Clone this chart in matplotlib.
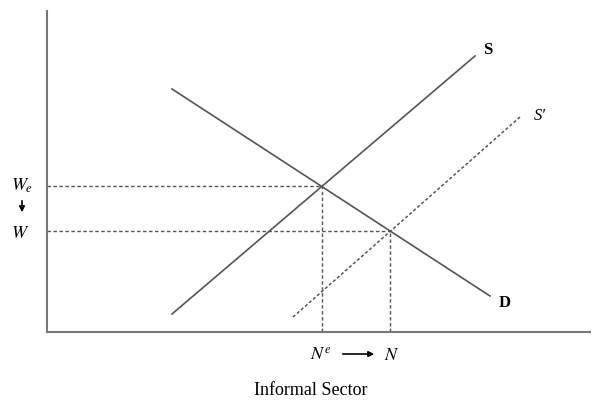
import matplotlib.pyplot as plt
import numpy as np

plt.rcParams['mathtext.fontset'] = 'stix'

# curve end points in chart units (x = quantity of labour, y = wage)
supply_x = [125, 428]
supply_y = [18, 276]
demand_x = [125, 443]
demand_y = [243, 36]
supply2_x = [246, 473]
supply2_y = [15, 215]

line_color = '#555555'
guide_color = '#555555'
serif = ['Liberation Serif', 'DejaVu Serif']


def line_coef(xs, ys):
    m = (ys[1] - ys[0]) / (xs[1] - xs[0])
    return m, ys[0] - m * xs[0]


def intersect(a, b):
    m1, c1 = line_coef(*a)
    m2, c2 = line_coef(*b)
    x = (c2 - c1) / (m1 - m2)
    return x, m1 * x + c1


def fpos(px, py):
    # pixel position in the 595x406 picture -> figure fraction
    return px / 595, (406 - py) / 406


fig = plt.figure(figsize=(5.95, 4.06), dpi=100)
ax = fig.add_axes([47 / 595, 73 / 406, 543 / 595, 321 / 406])
ax.set_xlim(0, 543)
ax.set_ylim(0, 321)

ax.plot(supply_x, supply_y, color=line_color, lw=1.2)
ax.plot(demand_x, demand_y, color=line_color, lw=1.2)
ax.plot(supply2_x, supply2_y, color=line_color, lw=1.1, linestyle=(0, (2, 1.5)))

e1 = intersect((supply_x, supply_y), (demand_x, demand_y))
e2 = intersect((supply2_x, supply2_y), (demand_x, demand_y))
for ex, ey in (e1, e2):
    ax.plot([0, ex], [ey, ey], color=guide_color, lw=1.0, linestyle=(0, (2.5, 1.8)))
    ax.plot([ex, ex], [0, ey], color=guide_color, lw=1.0, linestyle=(0, (2.5, 1.8)))

for side in ['top', 'right']:
    ax.spines[side].set_visible(False)
for side in ['left', 'bottom']:
    ax.spines[side].set_color('#777777')
    ax.spines[side].set_linewidth(1.5)
ax.set_xticks([e1[0], e2[0]])
ax.set_xticklabels([])
ax.tick_params(axis='x', direction='in', length=3, color='#777777')
ax.set_yticks([])

ax.text(441, 283, 'S', fontsize=12, fontweight='bold', family=serif, ha='center', va='center')
ax.text(493, 217, "S'", fontsize=12, fontstyle='italic', family=serif, ha='center', va='center')
ax.text(458, 30, 'D', fontsize=12, fontweight='bold', family=serif, ha='center', va='center')

# axis annotations
fig.text(*fpos(22, 186), r'$W_e$', fontsize=13, ha='center', va='center')
ax.annotate('', xy=fpos(22, 216), xytext=fpos(22, 199),
            xycoords='figure fraction', textcoords='figure fraction',
            arrowprops=dict(arrowstyle='-|>', color='black', lw=1.2, mutation_scale=8))
fig.text(*fpos(20, 233), r'$W$', fontsize=13, ha='center', va='center')
fig.text(*fpos(321, 355), r'$N^e$', fontsize=13, ha='center', va='center')
ax.annotate('', xy=fpos(377, 355), xytext=fpos(340, 355),
            xycoords='figure fraction', textcoords='figure fraction',
            arrowprops=dict(arrowstyle='-|>', color='black', lw=1.2, mutation_scale=8))
fig.text(*fpos(392, 355), r'$N$', fontsize=13, ha='center', va='center')

fig.text(*fpos(311, 391), 'Informal Sector', fontsize=13, family=serif,
         ha='center', va='center')

fig.savefig('out.png', dpi=100)
